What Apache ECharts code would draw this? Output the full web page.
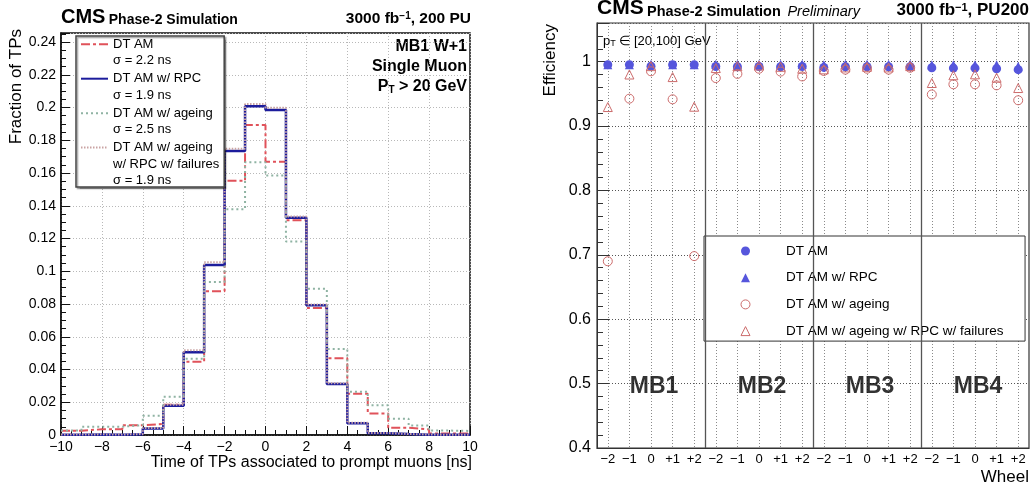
<!DOCTYPE html>
<html>
<head>
<meta charset="utf-8">
<title>DT AM trigger primitives: timing and efficiency</title>
<script src="https://cdn.jsdelivr.net/npm/echarts@6/dist/echarts.min.js"></script>
<style>
  html, body { margin: 0; padding: 0; background: #fff; }
  #chart { width: 1032px; height: 486px; }
</style>
</head>
<body>
<div id="chart"></div>
<script>
// left panel: time of TPs, 1 ns bins from -10 to 10 ns
const binEdges = [-10, -9, -8, -7, -6, -5, -4, -3, -2, -1, 0, 1, 2, 3, 4, 5, 6, 7, 8, 9, 10];
const fracDT = [0.0026, 0.0035, 0.0035, 0.0060, 0.0067, 0.0185, 0.0448, 0.0878, 0.1553, 0.1893,
                0.1668, 0.1311, 0.0776, 0.0468, 0.0252, 0.0132, 0.0045, 0.0034, 0.0009, 0.0010];
const fracRPC = [0.0002, 0.0003, 0.0002, 0.0005, 0.0039, 0.0178, 0.0506, 0.1038, 0.1734, 0.2008,
                 0.1985, 0.1326, 0.0792, 0.0312, 0.0072, 0.0011, 0.0006, 0.0002, 0.0001, 0.0002];
const fracAgeing = [0.0028, 0.0051, 0.0051, 0.0060, 0.0118, 0.0234, 0.0466, 0.0935, 0.1378, 0.1665,
                    0.1585, 0.1182, 0.0893, 0.0525, 0.0264, 0.0182, 0.0099, 0.0058, 0.0027, 0.0025];
const fracFail = [0.0003, 0.0004, 0.0003, 0.0006, 0.0043, 0.0184, 0.0518, 0.1055, 0.1748, 0.2021,
                  0.1998, 0.1334, 0.0797, 0.0316, 0.0075, 0.0012, 0.0006, 0.0003, 0.0001, 0.0002];
const histNames = ['DT AM\nσ = 2.2 ns', 'DT AM w/ RPC\nσ = 1.9 ns', 'DT AM w/ ageing\nσ = 2.5 ns',
                   'DT AM w/ ageing\nw/ RPC w/ failures\nσ = 1.9 ns'];

// right panel: efficiency per station and wheel
const stations = ['MB1', 'MB2', 'MB3', 'MB4'];
const wheels = ['−2', '−1', '0', '+1', '+2'];
const effDT = [0.9953, 0.9953, 0.9930, 0.9953, 0.9953,
               0.9925, 0.9920, 0.9925, 0.9920, 0.9925,
               0.9910, 0.9920, 0.9920, 0.9920, 0.9920,
               0.9905, 0.9900, 0.9900, 0.9890, 0.9875];
const effRPC = [0.9950, 0.9950, 0.9960, 0.9950, 0.9950,
                0.9960, 0.9960, 0.9960, 0.9960, 0.9960,
                0.9950, 0.9960, 0.9960, 0.9960, 0.9960,
                0.9950, 0.9950, 0.9950, 0.9950, 0.9930];
const effAgeing = [0.6900, 0.9425, 0.9850, 0.9415, 0.6980,
                   0.9745, 0.9810, 0.9890, 0.9845, 0.9770,
                   0.9855, 0.9875, 0.9890, 0.9875, 0.9905,
                   0.9490, 0.9648, 0.9648, 0.9632, 0.9400];
const effAgeingFail = [0.9295, 0.9800, 0.9930, 0.9760, 0.9300,
                       0.9900, 0.9930, 0.9940, 0.9920, 0.9890,
                       0.9880, 0.9910, 0.9920, 0.9910, 0.9930,
                       0.9668, 0.9788, 0.9803, 0.9750, 0.9590];
const effNames = ['DT AM', 'DT AM w/ RPC', 'DT AM w/ ageing', 'DT AM w/ ageing w/ RPC w/ failures'];

const FONT = '"Liberation Sans", Arial, Helvetica, sans-serif';
const red = '#e0525a', navy = '#1c1c9c', sage = '#8fb3a3', rose = '#c9a3a3';
const blue = '#5656dc', pink = '#cc6b6b';
const LEG_LINE = 16.5;

const chart = echarts.init(document.getElementById('chart'), null, { renderer: 'canvas' });

// histogram outline: each bin's left edge carries its value, last edge closes the last bin
function histPoints(vals) {
  return binEdges.map((x, i) => [x, vals[Math.min(i, vals.length - 1)]]);
}
function minus(v) {
  return v < 0 ? '−' + Math.abs(v) : String(v);
}
const categories = [];
stations.forEach(s => wheels.forEach(w => categories.push(s + ' ' + w)));

function histSeries(name, vals, color, width, type) {
  return {
    name: name, type: 'line', step: 'end', symbol: 'none',
    xAxisIndex: 0, yAxisIndex: 0,
    lineStyle: { color: color, width: width, type: type },
    itemStyle: { color: color },
    data: histPoints(vals)
  };
}
function effSeries(name, vals, symbol, fill, stroke) {
  return {
    name: name, type: 'scatter', symbol: symbol, symbolSize: 9,
    xAxisIndex: 1, yAxisIndex: 1,
    itemStyle: { color: fill, borderColor: stroke, borderWidth: stroke ? 1 : 0, opacity: 1 },
    data: vals.map((v, i) => [i, v])
  };
}

const dotted = [1, 2];
const option = {
  animation: false,
  textStyle: { fontFamily: FONT, color: '#000' },
  grid: [
    { left: 61, top: 33, width: 409, height: 402, show: true, borderColor: '#111', borderWidth: 1.5 },
    { left: 597, top: 23, width: 432, height: 425, show: true, borderColor: '#333', borderWidth: 1.2 }
  ],
  xAxis: [
    {
      gridIndex: 0, type: 'value', min: -10, max: 10, interval: 2,
      axisLine: { show: true, onZero: false, lineStyle: { color: '#111', width: 1.5 } },
      axisTick: { inside: true, length: 9, lineStyle: { color: '#111' } },
      minorTick: { show: true, splitNumber: 4, length: 5, lineStyle: { color: '#111' } },
      axisLabel: { fontSize: 14, margin: 5, color: '#000', formatter: minus },
      splitLine: { show: true, lineStyle: { color: '#b8b8b8', type: dotted } }
    },
    {
      gridIndex: 1, type: 'category', data: categories, boundaryGap: true,
      axisLine: { show: true, onZero: false, lineStyle: { color: '#333' } },
      axisTick: { inside: true, length: 12, alignWithLabel: true, interval: 0, lineStyle: { color: '#333' } },
      axisLabel: { interval: 0, fontSize: 13, margin: 5, color: '#000', formatter: v => v.split(' ')[1] },
      splitLine: { show: true, alignWithLabel: true, interval: 0, lineStyle: { color: '#8a8a8a', type: dotted } }
    },
    { gridIndex: 1, type: 'value', min: 0, max: stations.length * wheels.length, show: false }
  ],
  yAxis: [
    {
      gridIndex: 0, type: 'value', min: 0, max: 0.2455, interval: 0.02,
      axisLine: { show: true, onZero: false, lineStyle: { color: '#111', width: 1.5 } },
      axisTick: { inside: true, length: 9, lineStyle: { color: '#111' } },
      minorTick: { show: true, splitNumber: 4, length: 5, lineStyle: { color: '#111' } },
      axisLabel: { fontSize: 14, margin: 5, color: '#000', showMaxLabel: false },
      splitLine: { show: true, lineStyle: { color: '#b8b8b8', type: dotted } }
    },
    {
      gridIndex: 1, type: 'value', min: 0.4, max: 1.06, interval: 0.1,
      axisLine: { show: true, onZero: false, lineStyle: { color: '#333' } },
      axisTick: { inside: true, length: 12, lineStyle: { color: '#333' } },
      minorTick: { show: true, splitNumber: 5, length: 6, lineStyle: { color: '#333' } },
      axisLabel: { fontSize: 16, margin: 6, color: '#000', showMaxLabel: false },
      splitLine: { show: true, lineStyle: { color: '#555', type: dotted } }
    }
  ],
  legend: [
    {
      data: histNames.map(n => ({
        name: n,
        // shrink the measured block so the icon stays on the first line
        textStyle: { padding: [0, 0, -LEG_LINE * (n.split('\n').length - 1), 0] }
      })),
      orient: 'vertical', left: 76, top: 36,
      itemWidth: 27, itemHeight: 10, itemGap: 3.2,
      padding: [0, 5, 0, 4],
      selectedMode: false,
      itemStyle: { color: 'rgba(0,0,0,0)', borderWidth: 0 },
      textStyle: { fontSize: 13, lineHeight: LEG_LINE, color: '#000', rich: { n: { fontSize: 13, lineHeight: LEG_LINE } } },
      backgroundColor: '#fff', borderColor: '#444', borderWidth: 1.5,
      shadowColor: 'rgba(0,0,0,0.35)', shadowOffsetX: 1.5, shadowOffsetY: 1.5, shadowBlur: 1
    },
    {
      data: effNames,
      orient: 'vertical', left: 704, top: 236,
      itemWidth: 9, itemHeight: 9, itemGap: 12.7,
      padding: [8, 21.5, 3, 36.5],
      selectedMode: false,
      itemStyle: { borderWidth: 1 },
      textStyle: { fontSize: 13.5, lineHeight: 14, color: '#000', padding: [0, 0, 0, 31] },
      backgroundColor: '#fff', borderColor: '#333', borderWidth: 1
    }
  ],
  graphic: [
    {
      type: 'text', x: 61, y: 27,
      style: {
        text: '{a|CMS} {b|Phase-2 Simulation}', verticalAlign: 'bottom',
        rich: {
          a: { font: 'bold 20px ' + FONT, verticalAlign: 'bottom' },
          b: { font: 'bold 14px ' + FONT, verticalAlign: 'bottom' }
        }
      }
    },
    {
      type: 'text', x: 471, y: 27,
      style: {
        text: '{a|3000 fb}{s|−1}{a|, 200 PU}', align: 'right', verticalAlign: 'bottom',
        rich: {
          a: { font: 'bold 15.5px ' + FONT, verticalAlign: 'bottom' },
          s: { font: 'bold 10px ' + FONT, verticalAlign: 'top' }
        }
      }
    },
    {
      type: 'text', x: 467, y: 35,
      style: {
        text: '{a|MB1 W+1}\n{a|Single Muon}\n{a|P}{t|T}{a| > 20 GeV}', align: 'right', verticalAlign: 'top',
        rich: {
          a: { font: 'bold 16px ' + FONT, lineHeight: 20, verticalAlign: 'bottom' },
          t: { font: 'bold 10px ' + FONT, lineHeight: 11, padding: [9, 0, 0, 0], verticalAlign: 'bottom' }
        }
      }
    },
    {
      type: 'text', x: 16, y: 29, rotation: Math.PI / 2,
      style: { text: 'Fraction of TPs', font: '17px ' + FONT, align: 'right', verticalAlign: 'middle' }
    },
    {
      type: 'text', x: 472, y: 463,
      style: { text: 'Time of TPs associated to prompt muons [ns]', font: '16px ' + FONT, align: 'right', verticalAlign: 'middle' }
    },
    {
      type: 'text', x: 597, y: 19,
      style: {
        text: '{a|CMS} {b|Phase-2 Simulation}  {i|Preliminary}', verticalAlign: 'bottom',
        rich: {
          a: { font: 'bold 21px ' + FONT, verticalAlign: 'bottom' },
          b: { font: 'bold 14.5px ' + FONT, verticalAlign: 'bottom' },
          i: { font: 'italic 14.5px ' + FONT, verticalAlign: 'bottom' }
        }
      }
    },
    {
      type: 'text', x: 1029, y: 19,
      style: {
        text: '{a|3000 fb}{s|−1}{a|, PU200}', align: 'right', verticalAlign: 'bottom',
        rich: {
          a: { font: 'bold 17px ' + FONT, verticalAlign: 'bottom' },
          s: { font: 'bold 11px ' + FONT, verticalAlign: 'top' }
        }
      }
    },
    {
      type: 'text', x: 603, y: 33,
      style: {
        text: '{a|p}{t|T}{a| ∈ [20,100] GeV}', verticalAlign: 'top',
        rich: {
          a: { font: '13px ' + FONT, lineHeight: 15, verticalAlign: 'bottom' },
          t: { font: '9px ' + FONT, lineHeight: 9, padding: [8, 0, 0, 0], verticalAlign: 'bottom' }
        }
      }
    },
    {
      type: 'text', x: 550, y: 24, rotation: Math.PI / 2,
      style: { text: 'Efficiency', font: '17px ' + FONT, align: 'right', verticalAlign: 'middle' }
    },
    {
      type: 'text', x: 1029, y: 477,
      style: { text: 'Wheel', font: '17px ' + FONT, align: 'right', verticalAlign: 'middle' }
    }
  ],
  series: [
    histSeries(histNames[0], fracDT, red, 2, [9, 3, 3, 3]),
    histSeries(histNames[1], fracRPC, navy, 2.5, 'solid'),
    histSeries(histNames[2], fracAgeing, sage, 2, [2, 3]),
    histSeries(histNames[3], fracFail, rose, 2, [1.5, 1.5]),
    effSeries(effNames[0], effDT, 'circle', blue, null),
    effSeries(effNames[1], effRPC, 'triangle', blue, null),
    effSeries(effNames[2], effAgeing, 'circle', 'rgba(0,0,0,0)', pink),
    effSeries(effNames[3], effAgeingFail, 'triangle', 'rgba(0,0,0,0)', pink),
    {
      // station names and the solid lines separating the stations
      name: 'stations', type: 'scatter', xAxisIndex: 2, yAxisIndex: 1,
      symbolSize: 1, silent: true,
      itemStyle: { color: 'rgba(0,0,0,0)' },
      label: {
        show: true, position: 'inside', formatter: '{b}', offset: [3, 0],
        fontFamily: FONT, fontSize: 23, fontWeight: 'bold', color: '#000'
      },
      data: stations.map((s, k) => ({ name: s, value: [(k + 0.5) * wheels.length, 0.495] })),
      markLine: {
        silent: true, symbol: ['none', 'none'], label: { show: false },
        lineStyle: { color: '#555', width: 1.3, type: 'solid' },
        data: stations.slice(1).map((s, k) => ({ xAxis: (k + 1) * wheels.length }))
      }
    }
  ]
};
chart.setOption(option);
</script>
</body>
</html>
